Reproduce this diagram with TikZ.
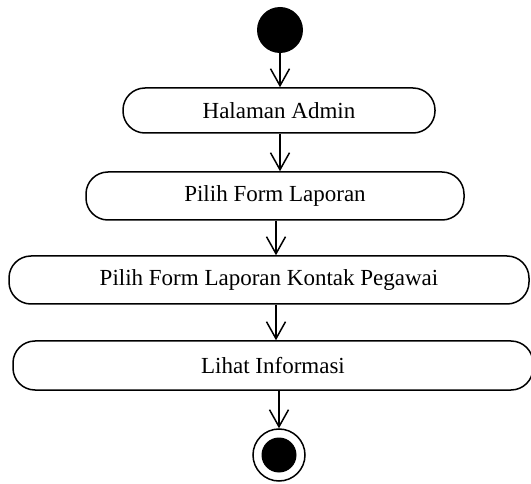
\documentclass[tikz,border=0pt]{standalone}
\usepackage{fontspec}
\setmainfont{Liberation Serif}
\usetikzlibrary{arrows.meta}
\begin{document}
\begin{tikzpicture}[x=1pt,y=-1pt,
  act/.style={draw,line width=1.5pt,rounded corners=22pt,inner sep=0pt,
    font=\fontsize{23}{27}\selectfont},
  flow/.style={line width=1.5pt,-{Straight Barb[length=17pt,width=19pt,line width=1.5pt]}}]
\useasboundingbox (0,0) rectangle (531,484);
\node[circle,fill=black,minimum size=46pt,inner sep=0pt] (start) at (280,30) {};
\node[act,minimum width=312pt,minimum height=45pt] (b1) at (279,110.5) {Halaman Admin};
\node[act,minimum width=378pt,minimum height=48pt] (b2) at (275,196) {Pilih Form Laporan};
\node[act,minimum width=520pt,minimum height=48pt] (b3) at (269,280) {Pilih Form Laporan Kontak Pegawai};
\node[act,minimum width=520pt,minimum height=49pt] (b4) at (273,365.5) {Lihat Informasi};
\node[circle,draw,line width=1.5pt,minimum size=52pt,inner sep=0pt] (end) at (279,455) {};
\node[circle,fill=black,minimum size=35pt,inner sep=0pt] (endin) at (end) {};
\draw[flow] (start.south) -- (start.south |- b1.north);
\draw[flow] (start.south |- b1.south) -- (start.south |- b2.north);
\draw[flow] ([xshift=-3pt]b1.south |- b2.south) -- ([xshift=-3pt]b1.south |- b3.north);
\draw[flow] ([xshift=-3pt]b1.south |- b3.south) -- ([xshift=-3pt]b1.south |- b4.north);
\draw[flow] (end.north |- b4.south) -- (end.north);
\end{tikzpicture}
\end{document}
